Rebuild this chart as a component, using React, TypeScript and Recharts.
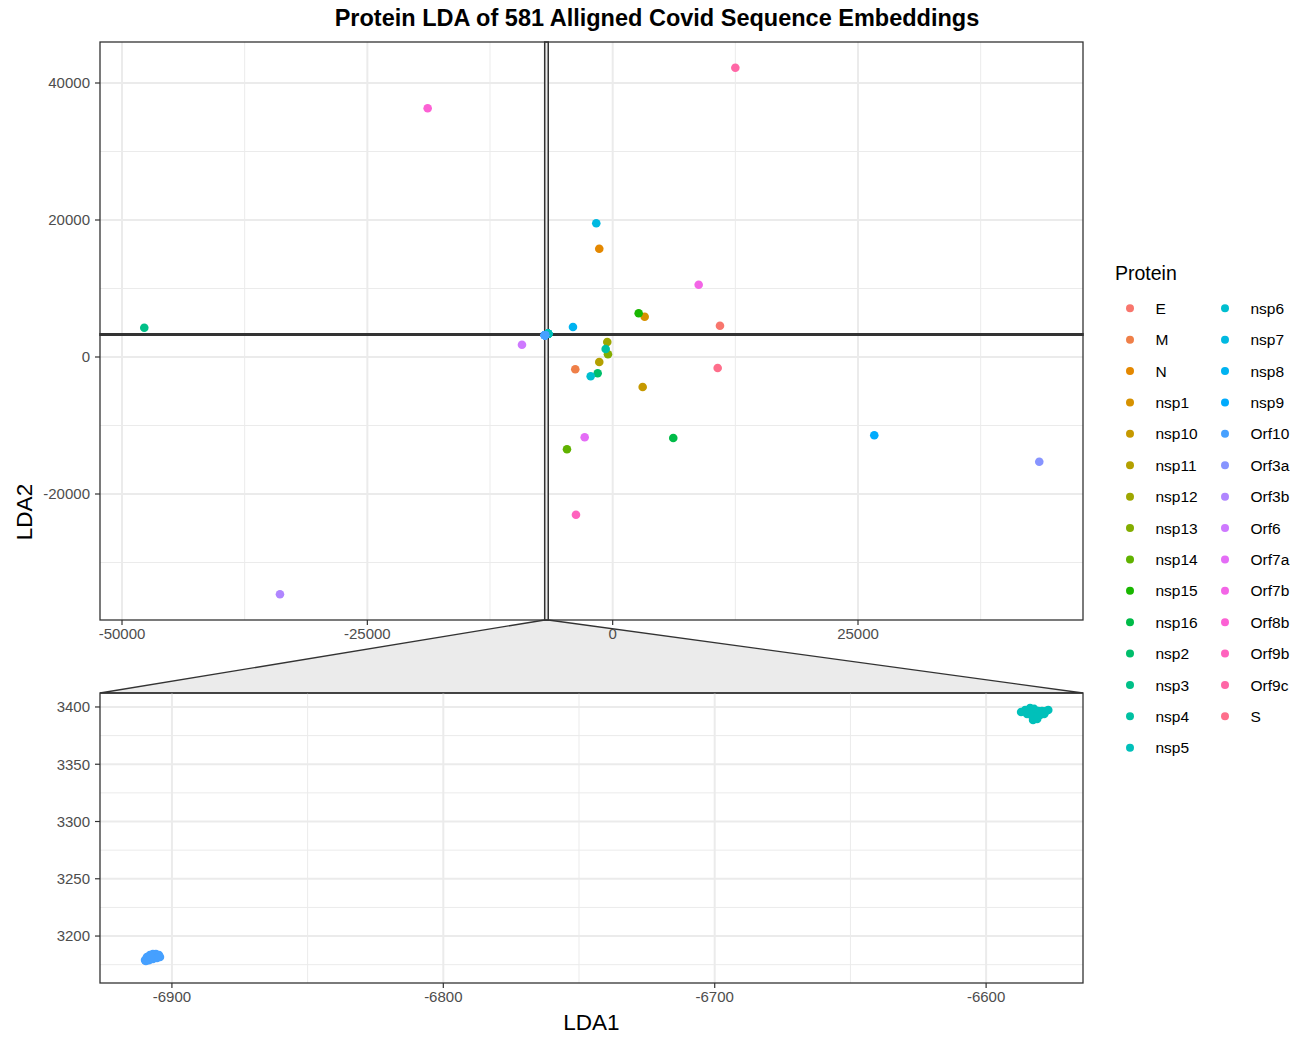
import React from 'react';
import { ScatterChart, Scatter, XAxis, YAxis, CartesianGrid, ReferenceArea } from 'recharts';

// Protein levels, in legend order
const proteins = [
  'E', 'M', 'N', 'nsp1', 'nsp10', 'nsp11', 'nsp12', 'nsp13', 'nsp14', 'nsp15',
  'nsp16', 'nsp2', 'nsp3', 'nsp4', 'nsp5', 'nsp6', 'nsp7', 'nsp8', 'nsp9', 'Orf10',
  'Orf3a', 'Orf3b', 'Orf6', 'Orf7a', 'Orf7b', 'Orf8b', 'Orf9b', 'Orf9c', 'S',
];

// Embedding position of each protein (nsp5 and Orf10 listed separately below)
const lda1 = [
  10934, -3811, -1366, 3261, 3057, -1366, -550, -479, -4657, 2649,
  6175, -1529, -47731, -713, null, -2242, -1671, -4046, 26658, null,
  43472, -33903, -9243, -2853, 8764, -18852, -3740, 12500, 10700,
];
const lda2 = [
  4569, -1796, 15810, 5883, -4380, -730, 2190, 394, -13474, 6380,
  -11825, -2380, 4277, 1168, null, -2818, 19518, 4380, -11431, null,
  -15285, -34642, 1796, -11723, 10555, 36307, -23022, 42234, -1606,
];

// Individual sequences of the two clusters near the origin
const nsp5Lda1 = [-6587.1, -6585.6, -6583.8, -6582.3, -6580.8, -6579.4, -6577.9, -6577.1, -6583.4, -6581.9, -6582.7, -6581.2, -6580.1, -6584.9, -6578.6];
const nsp5Lda2 = [3395.6, 3397.4, 3399.1, 3398.3, 3396.5, 3396.5, 3396.5, 3397.4, 3393.0, 3391.3, 3388.6, 3389.5, 3393.0, 3393.9, 3393.9];
const orf10Lda1 = [-6909.9, -6909.2, -6908.1, -6907.0, -6905.9, -6904.8, -6904.4, -6905.5, -6907.0, -6908.5, -6909.6, -6907.7];
const orf10Lda2 = [3179.0, 3181.7, 3183.4, 3184.3, 3184.3, 3183.4, 3181.7, 3180.8, 3179.9, 3179.0, 3178.2, 3181.7];

// Axis ticks
const mainXTicks = [-50000, -25000, 0, 25000];
const mainXMinor = [-37500, -12500, 12500, 37500];
const mainYTicks = [-20000, 0, 20000, 40000];
const mainYMinor = [-30000, -10000, 10000, 30000];
const zoomXTicks = [-6900, -6800, -6700, -6600];
const zoomXMinor = [-6850, -6750, -6650];
const zoomYTicks = [3200, 3250, 3300, 3350, 3400];
const zoomYMinor = [3175, 3225, 3275, 3325, 3375];

// Axis limits
const mainXDomain = [-52243, 47928];
const mainYDomain = [-38394, 45985];
const zoomXDomain = [-6926.5, -6564.3];
const zoomYDomain = [3159, 3412.2];

const FONT = '"Liberation Sans", Arial, Helvetica, sans-serif';
const PANEL_LEFT = 100;
const PANEL_RIGHT = 1083;
const MAIN_TOP = 42;
const MAIN_BOTTOM = 620;
const ZOOM_TOP = 693;
const ZOOM_BOTTOM = 983;

// ggplot-style hue palette (HCL, c = 100, l = 65)
function hcl(h: number, c = 100, l = 65): string {
  const Xn = 0.95047, Yn = 1.0, Zn = 1.08883;
  const hr = (h * Math.PI) / 180;
  const u = c * Math.cos(hr);
  const v = c * Math.sin(hr);
  const Y = Yn * Math.pow((l + 16) / 116, 3);
  const denom = Xn + 15 * Yn + 3 * Zn;
  const un = (4 * Xn) / denom;
  const vn = (9 * Yn) / denom;
  const up = u / (13 * l) + un;
  const vp = v / (13 * l) + vn;
  const X = (9 * Y * up) / (4 * vp);
  const Z = -X / 3 - 5 * Y + (3 * Y) / vp;
  const lin = [
    3.240479 * X - 1.53715 * Y - 0.498535 * Z,
    -0.969256 * X + 1.875992 * Y + 0.041556 * Z,
    0.055648 * X - 0.204043 * Y + 1.057311 * Z,
  ];
  const hex = lin
    .map((t) => {
      const g = t <= 0.0031308 ? 12.92 * t : 1.055 * Math.pow(t, 1 / 2.4) - 0.055;
      const k = Math.round(Math.min(1, Math.max(0, g)) * 255);
      return k.toString(16).padStart(2, '0');
    })
    .join('');
  return '#' + hex;
}

const colors = proteins.map((_, i) => hcl(15 + (360 / proteins.length) * i));

const clusters: Record<string, { xs: number[]; ys: number[] }> = {
  nsp5: { xs: nsp5Lda1, ys: nsp5Lda2 },
  Orf10: { xs: orf10Lda1, ys: orf10Lda2 },
};

const series = proteins.map((name, i) => {
  const c = clusters[name];
  const points = c
    ? c.xs.map((x, j) => ({ x, y: c.ys[j] }))
    : [{ x: lda1[i] as number, y: lda2[i] as number }];
  return { name, color: colors[i], points };
});

const tickStyle = { fill: '#4D4D4D', fontSize: 15, fontFamily: FONT };
const tickLine = { stroke: '#333333', strokeWidth: 1.2 };

type PanelProps = {
  height: number;
  margin: { top: number; right: number; bottom: number; left: number };
  xDomain: number[];
  yDomain: number[];
  xTicks: number[];
  yTicks: number[];
  xMinor: number[];
  yMinor: number[];
  showIndicator?: boolean;
};

function Panel(p: PanelProps) {
  return (
    <ScatterChart width={1304} height={p.height} margin={p.margin}>
      <CartesianGrid
        horizontalValues={p.yMinor}
        verticalValues={p.xMinor}
        stroke="#EBEBEB"
        strokeWidth={1}
        fill="none"
      />
      <CartesianGrid
        horizontalValues={p.yTicks}
        verticalValues={p.xTicks}
        stroke="#EBEBEB"
        strokeWidth={2}
        fill="none"
      />
      <XAxis
        type="number"
        dataKey="x"
        domain={p.xDomain}
        ticks={p.xTicks}
        allowDataOverflow
        axisLine={false}
        tickLine={tickLine}
        tickSize={5}
        tickMargin={3}
        height={30}
        tick={tickStyle}
        interval={0}
      />
      <YAxis
        type="number"
        dataKey="y"
        domain={p.yDomain}
        ticks={p.yTicks}
        allowDataOverflow
        axisLine={false}
        tickLine={tickLine}
        tickSize={5}
        tickMargin={5}
        width={100}
        tick={tickStyle}
        interval={0}
      />
      {p.showIndicator && (
        <ReferenceArea
          x1={zoomXDomain[0]}
          x2={zoomXDomain[1]}
          fill="#EBEBEB"
          fillOpacity={1}
          stroke="#333333"
          strokeWidth={1.5}
        />
      )}
      {p.showIndicator && (
        <ReferenceArea
          y1={zoomYDomain[0]}
          y2={zoomYDomain[1]}
          fill="#EBEBEB"
          fillOpacity={1}
          stroke="#333333"
          strokeWidth={1.5}
        />
      )}
      {series.map((s) => (
        <Scatter
          key={s.name}
          name={s.name}
          data={s.points}
          fill={s.color}
          isAnimationActive={false}
          shape={(props: any) => (
            <circle cx={props.cx} cy={props.cy} r={4.3} fill={s.color} />
          )}
        />
      ))}
    </ScatterChart>
  );
}

// Pixel position of a value along the main panel's x axis
function mainX(v: number): number {
  return (
    PANEL_LEFT +
    ((v - mainXDomain[0]) / (mainXDomain[1] - mainXDomain[0])) * (PANEL_RIGHT - PANEL_LEFT)
  );
}

export default function App() {
  const legendRows = 15;
  const trapezoid = [
    `${mainX(zoomXDomain[0])},${MAIN_BOTTOM}`,
    `${mainX(zoomXDomain[1])},${MAIN_BOTTOM}`,
    `${PANEL_RIGHT},${ZOOM_TOP}`,
    `${PANEL_LEFT},${ZOOM_TOP}`,
  ].join(' ');

  return (
    <div
      style={{
        position: 'absolute',
        left: 0,
        top: 0,
        width: 1304,
        height: 1037,
        background: '#FFFFFF',
        fontFamily: FONT,
      }}
    >
      {/* zoom connector, drawn beneath the axis labels */}
      <svg width={1304} height={1037} style={{ position: 'absolute', left: 0, top: 0 }}>
        <polygon points={trapezoid} fill="#EBEBEB" stroke="#333333" strokeWidth={1.3} />
      </svg>
      <div style={{ position: 'absolute', left: 0, top: 0 }}>
        <Panel
          height={650}
          margin={{ top: MAIN_TOP, right: 1304 - PANEL_RIGHT, bottom: 0, left: 0 }}
          xDomain={mainXDomain}
          yDomain={mainYDomain}
          xTicks={mainXTicks}
          yTicks={mainYTicks}
          xMinor={mainXMinor}
          yMinor={mainYMinor}
          showIndicator
        />
      </div>
      <div style={{ position: 'absolute', left: 0, top: 650 }}>
        <Panel
          height={387}
          margin={{ top: ZOOM_TOP - 650, right: 1304 - PANEL_RIGHT, bottom: 24, left: 0 }}
          xDomain={zoomXDomain}
          yDomain={zoomYDomain}
          xTicks={zoomXTicks}
          yTicks={zoomYTicks}
          xMinor={zoomXMinor}
          yMinor={zoomYMinor}
        />
      </div>
      <svg
        width={1304}
        height={1037}
        style={{ position: 'absolute', left: 0, top: 0, pointerEvents: 'none' }}
      >
        <text
          x={657}
          y={26}
          textAnchor="middle"
          fontSize={23.5}
          fontWeight="bold"
          fontFamily={FONT}
          fill="#000000"
        >
          Protein LDA of 581 Alligned Covid Sequence Embeddings
        </text>

        {/* panel borders */}
        <rect
          x={PANEL_LEFT}
          y={MAIN_TOP}
          width={PANEL_RIGHT - PANEL_LEFT}
          height={MAIN_BOTTOM - MAIN_TOP}
          fill="none"
          stroke="#333333"
          strokeWidth={1.3}
        />
        <rect
          x={PANEL_LEFT}
          y={ZOOM_TOP}
          width={PANEL_RIGHT - PANEL_LEFT}
          height={ZOOM_BOTTOM - ZOOM_TOP}
          fill="none"
          stroke="#333333"
          strokeWidth={1.3}
        />

        {/* axis titles */}
        <text
          x={591.5}
          y={1030}
          textAnchor="middle"
          fontSize={22.5}
          fontFamily={FONT}
          fill="#000000"
        >
          LDA1
        </text>
        <text
          transform="translate(32,512) rotate(-90)"
          textAnchor="middle"
          fontSize={22.5}
          fontFamily={FONT}
          fill="#000000"
        >
          LDA2
        </text>

        {/* legend */}
        <text x={1115} y={280} fontSize={19.5} fontFamily={FONT} fill="#000000">
          Protein
        </text>
        {series.map((s, i) => {
          const col = Math.floor(i / legendRows);
          const row = i % legendRows;
          const cy = 308.3 + row * 31.39;
          const kx = 1130 + col * 95;
          return (
            <g key={s.name}>
              <circle cx={kx} cy={cy} r={4} fill={s.color} />
              <text
                x={kx + 25.5}
                y={cy}
                dy="0.36em"
                fontSize={15.5}
                fontFamily={FONT}
                fill="#000000"
              >
                {s.name}
              </text>
            </g>
          );
        })}
      </svg>
    </div>
  );
}
